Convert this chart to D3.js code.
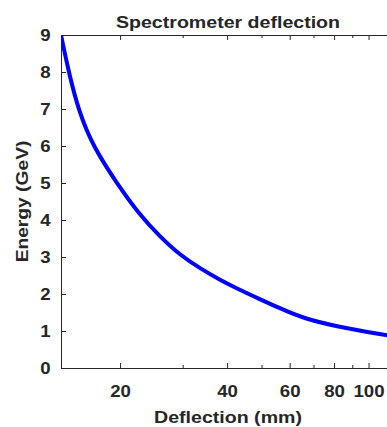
<!DOCTYPE html>
<html>
<head>
<meta charset="utf-8">
<script src="https://cdn.jsdelivr.net/npm/d3@7"></script>
<style>
  body { margin: 0; background: #fff; }
  text { font-family: "Liberation Sans", Arial, sans-serif; font-weight: bold; fill: #262626; }
</style>
</head>
<body>
<svg id="chart"></svg>
<script>
// values
const deflection = [13.64, 14.3, 15.26, 16.8, 19.6, 22.7, 25.9, 29.5, 33.6, 38.2, 43.5, 49.0, 55.8, 65.6, 81.4, 113.5];
const energy     = [9.0,   8.05, 6.97,  5.98, 4.99, 4.14, 3.55, 3.05, 2.69, 2.38, 2.11, 1.88, 1.63, 1.34, 1.12, 0.88];
const xTicks = [20, 40, 60, 80, 100];
const xMinorTicks = [30, 50, 70, 90];
const yTicks = [0, 1, 2, 3, 4, 5, 6, 7, 8, 9];

const width = 387;
const height = 427;
const plot = { left: 61, right: 395, top: 35, bottom: 368 };
const stretch = 1.18; // the reference glyphs are wider than Arial

const svg = d3.select("#chart")
  .attr("width", width)
  .attr("height", height);

const x = d3.scaleLog()
  .domain([13.64, 118.7])
  .range([plot.left, plot.right]);

const y = d3.scaleLinear()
  .domain([0, 9])
  .range([plot.bottom, plot.top]);

// bottom axis, ticks inward
const xAxis = svg.append("g")
  .attr("transform", `translate(0,${plot.bottom})`)
  .attr("color", "#262626")
  .call(d3.axisBottom(x).tickValues(xTicks).tickSizeInner(-5).tickSizeOuter(0).tickFormat(d3.format("d")));
xAxis.selectAll(".tick text")
  .attr("y", null).attr("dy", null)
  .attr("font-size", 15.8)
  .attr("transform", `translate(0,29) scale(${stretch},1)`);

svg.append("g")
  .attr("transform", `translate(0,${plot.bottom})`)
  .attr("color", "#262626")
  .call(d3.axisBottom(x).tickValues(xMinorTicks).tickSizeInner(-3).tickSizeOuter(0).tickFormat(""))
  .select(".domain").remove();

// top edge of the box, mirrored ticks
svg.append("g")
  .attr("transform", `translate(0,${plot.top})`)
  .attr("color", "#262626")
  .call(d3.axisTop(x).tickValues(xTicks).tickSizeInner(-5).tickSizeOuter(0).tickFormat(""));
svg.append("g")
  .attr("transform", `translate(0,${plot.top})`)
  .attr("color", "#262626")
  .call(d3.axisTop(x).tickValues(xMinorTicks).tickSizeInner(-3).tickSizeOuter(0).tickFormat(""))
  .select(".domain").remove();

// left axis
const yAxis = svg.append("g")
  .attr("transform", `translate(${plot.left},0)`)
  .attr("color", "#262626")
  .call(d3.axisLeft(y).tickValues(yTicks).tickSizeInner(-5).tickSizeOuter(0));
yAxis.selectAll(".tick text")
  .attr("x", null).attr("dy", "0.36em")
  .attr("font-size", 15.8)
  .attr("transform", `translate(-10.3,0) scale(${stretch},1)`);

// right edge of the box (mostly off screen)
svg.append("g")
  .attr("transform", `translate(${plot.right},0)`)
  .attr("color", "#262626")
  .call(d3.axisRight(y).tickValues(yTicks).tickSizeInner(-5).tickSizeOuter(0).tickFormat(""));

svg.append("clipPath").attr("id", "plotClip")
  .append("rect")
  .attr("x", plot.left).attr("y", plot.top)
  .attr("width", plot.right - plot.left).attr("height", plot.bottom - plot.top);

// basis curve smooths out the reading noise
const line = d3.line()
  .x((d, i) => x(deflection[i]))
  .y((d, i) => y(energy[i]))
  .curve(d3.curveBasis);

svg.append("path")
  .datum(energy)
  .attr("clip-path", "url(#plotClip)")
  .attr("fill", "none")
  .attr("stroke", "#0000ff")
  .attr("stroke-width", 4)
  .attr("stroke-linejoin", "round")
  .attr("d", line);

// titles
svg.append("text")
  .attr("text-anchor", "middle")
  .attr("font-size", 16.6)
  .attr("transform", `translate(${(plot.left + plot.right) / 2},28.3) scale(${stretch},1)`)
  .text("Spectrometer deflection");

svg.append("text")
  .attr("text-anchor", "middle")
  .attr("font-size", 16.6)
  .attr("transform", `translate(${(plot.left + plot.right) / 2},422.7) scale(${stretch},1)`)
  .text("Deflection (mm)");

svg.append("text")
  .attr("text-anchor", "middle")
  .attr("font-size", 16.3)
  .attr("transform", `translate(28.3,${(plot.top + plot.bottom) / 2}) rotate(-90) scale(${stretch},1)`)
  .text("Energy (GeV)");
</script>
</body>
</html>
